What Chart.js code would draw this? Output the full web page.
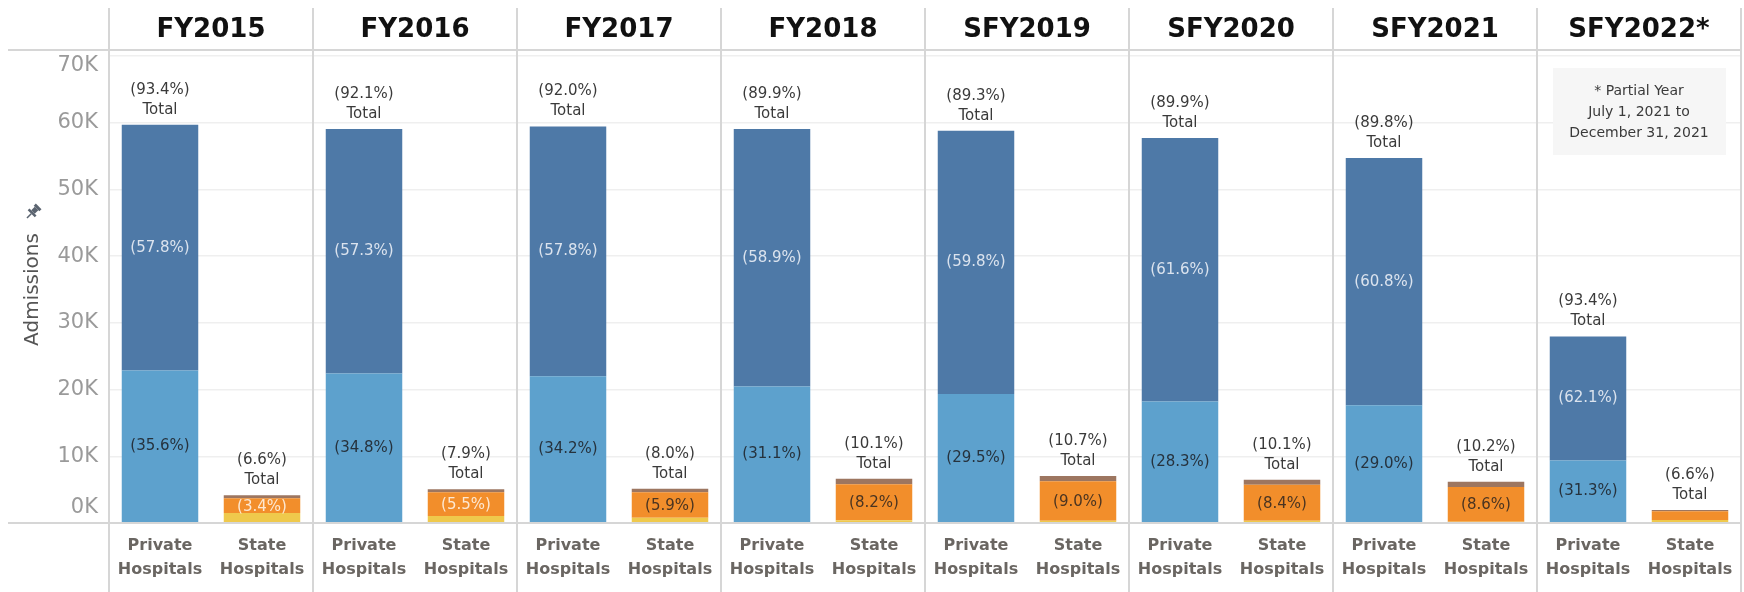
<!DOCTYPE html>
<html>
<head>
<meta charset="utf-8">
<script src="https://cdn.jsdelivr.net/npm/chart.js@4.4.1/dist/chart.umd.min.js"></script>
<style>
    html, body { margin: 0; padding: 0; background: #ffffff; }
    #wrap { width: 1744px; height: 592px; }
</style>
</head>
<body>
<div id="wrap"><canvas id="chart" width="1744" height="592"></canvas></div>
<script>
// 연도(패널)
const aYears = ["FY2015", "FY2016", "FY2017", "FY2018", "SFY2019", "SFY2020", "SFY2021", "SFY2022*"];
const aHospitalTypes = [["Private", "Hospitals"], ["State", "Hospitals"]];
const aYTicks = [0, 10000, 20000, 30000, 40000, 50000, 60000, 70000];

// admissions by segment
const aPrivateLight = [22850, 22400, 22000, 20450, 19350, 18200, 17650, 9350];
const aPrivateDark = [36850, 36650, 37450, 38600, 39450, 39500, 37050, 18600];
const aStateYellow = [1500, 1050, 800, 400, 350, 350, 200, 450];
const aStateOrange = [2200, 3550, 3800, 5400, 5900, 5400, 5200, 1300];
const aStateBrown = [450, 450, 550, 850, 800, 750, 800, 200];

// 라벨
const aPrivateTotalPct = ["(93.4%)", "(92.1%)", "(92.0%)", "(89.9%)", "(89.3%)", "(89.9%)", "(89.8%)", "(93.4%)"];
const aPrivateLightPct = ["(35.6%)", "(34.8%)", "(34.2%)", "(31.1%)", "(29.5%)", "(28.3%)", "(29.0%)", "(31.3%)"];
const aPrivateDarkPct = ["(57.8%)", "(57.3%)", "(57.8%)", "(58.9%)", "(59.8%)", "(61.6%)", "(60.8%)", "(62.1%)"];
const aStateTotalPct = ["(6.6%)", "(7.9%)", "(8.0%)", "(10.1%)", "(10.7%)", "(10.1%)", "(10.2%)", "(6.6%)"];
const aStateOrangePct = ["(3.4%)", "(5.5%)", "(5.9%)", "(8.2%)", "(9.0%)", "(8.4%)", "(8.6%)", null];
const aNote = ["* Partial Year", "July 1, 2021 to", "December 31, 2021"];

const sFont = "'DejaVu Sans', sans-serif";

// private / state 를 번갈아 하나의 축으로
function interleave(aPrivate, aState) {
    let aData = [];
    aYears.forEach(function (sYear, i) {
        aData.push(aPrivate ? aPrivate[i] : null);
        aData.push(aState ? aState[i] : null);
    });
    return aData;
}

let aLabels = [];
aYears.forEach(function () {
    aLabels.push(aHospitalTypes[0]);
    aLabels.push(aHospitalTypes[1]);
});

const oDecorPlugin = {
    id: "decor",
    beforeDatasetsDraw: function (chart) {
        const ctx = chart.ctx;
        const oX = chart.scales.x;
        const iLast = oX.getPixelForValue(15);
        // note box
        ctx.save();
        ctx.fillStyle = "#f6f6f6";
        ctx.fillRect(iLast - 137, 68, 173, 87);
        ctx.restore();
    },
    afterDraw: function (chart) {
        const ctx = chart.ctx;
        const oArea = chart.chartArea;
        const oX = chart.scales.x;
        const oY = chart.scales.y;
        const iHalf = (oX.getPixelForValue(1) - oX.getPixelForValue(0)) / 2;

        ctx.save();
        ctx.strokeStyle = "#d6d6d6";
        ctx.lineWidth = 2;

        // 헤더 / 축 선
        ctx.beginPath();
        ctx.moveTo(8, 50); ctx.lineTo(oArea.right, 50);
        ctx.moveTo(8, oArea.bottom); ctx.lineTo(oArea.right, oArea.bottom);
        ctx.stroke();

        // 패널 구분선
        ctx.beginPath();
        for (let i = 0; i <= aYears.length; i++) {
            let x = Math.round(oX.getPixelForValue(Math.min(2 * i, 15)) + (i === aYears.length ? iHalf : -iHalf));
            ctx.moveTo(x, 8); ctx.lineTo(x, 592);
        }
        ctx.stroke();

        // 패널 제목
        ctx.fillStyle = "#111111";
        ctx.font = "bold 26px " + sFont;
        ctx.textAlign = "center";
        ctx.textBaseline = "middle";
        aYears.forEach(function (sYear, i) {
            let x = (oX.getPixelForValue(2 * i) + oX.getPixelForValue(2 * i + 1)) / 2;
            ctx.fillText(sYear, x, 30);
        });

        // y 축 라벨
        ctx.fillStyle = "#9a9a9a";
        ctx.font = "21px " + sFont;
        ctx.textAlign = "right";
        oY.ticks.forEach(function (oTick) {
            let y = oY.getPixelForValue(oTick.value);
            y = Math.min(Math.max(y, oArea.top + 10), oArea.bottom - 15);
            ctx.fillText(oTick.value / 1000 + "K", 98, y);
        });

        // pin
        ctx.save();
        ctx.translate(33, 212);
        ctx.rotate(Math.PI / 4);
        ctx.fillStyle = "#5b6470";
        ctx.fillRect(-4, -8, 8, 3);
        ctx.fillRect(-2.5, -5, 5, 5);
        ctx.fillRect(-5, 0, 10, 2.5);
        ctx.fillRect(-0.75, 2.5, 1.5, 6);
        ctx.restore();

        // 데이터 라벨
        ctx.font = "15px " + sFont;
        ctx.textAlign = "center";
        const fnBar = function (iDataset, iIndex) {
            return chart.getDatasetMeta(iDataset).data[iIndex];
        };
        const fnMid = function (oBar) {
            return (oBar.y + oBar.base) / 2;
        };
        aYears.forEach(function (sYear, i) {
            let iP = 2 * i, iS = 2 * i + 1;
            let oLight = fnBar(0, iP), oDark = fnBar(1, iP);
            let oOrange = fnBar(3, iS), oBrown = fnBar(4, iS);

            ctx.fillStyle = "#3a3a3a";
            ctx.fillText(aPrivateTotalPct[i], oDark.x, oDark.y - 35);
            ctx.fillText("Total", oDark.x, oDark.y - 15);
            ctx.fillText(aStateTotalPct[i], oBrown.x, oBrown.y - 35);
            ctx.fillText("Total", oBrown.x, oBrown.y - 15);

            ctx.fillStyle = "#dbe3ee";
            ctx.fillText(aPrivateDarkPct[i], oDark.x, fnMid(oDark));
            ctx.fillStyle = "#26323d";
            ctx.fillText(aPrivateLightPct[i], oLight.x, fnMid(oLight));
            if (aStateOrangePct[i]) {
                ctx.fillStyle = i < 2 ? "#fde8d2" : "#4a3421";
                ctx.fillText(aStateOrangePct[i], oOrange.x, fnMid(oOrange) + 1);
            }
        });

        // note
        let xNote = oX.getPixelForValue(15) - 51;
        ctx.fillStyle = "#3a3a3a";
        ctx.font = "14px " + sFont;
        aNote.forEach(function (sLine, i) {
            ctx.fillText(sLine, xNote, 91 + i * 21);
        });

        ctx.restore();
    }
};

const ctx = document.getElementById("chart").getContext("2d");
new Chart(ctx, {
    type: "bar",
    data: {
        labels: aLabels,
        datasets: [
            { label: "Private light", data: interleave(aPrivateLight, null), backgroundColor: "#5da1cd" },
            { label: "Private dark", data: interleave(aPrivateDark, null), backgroundColor: "#4e79a7" },
            { label: "State yellow", data: interleave(null, aStateYellow), backgroundColor: "#efc94c" },
            { label: "State orange", data: interleave(null, aStateOrange), backgroundColor: "#f28e2b" },
            { label: "State brown", data: interleave(null, aStateBrown), backgroundColor: "#9d7660" }
        ]
    },
    options: {
        responsive: false,
        animation: false,
        barPercentage: 0.75,
        categoryPercentage: 1,
        layout: {
            padding: { left: 0, top: 56, right: 3, bottom: 0 }
        },
        plugins: {
            legend: { display: false },
            tooltip: { enabled: false }
        },
        scales: {
            x: {
                stacked: true,
                grid: { display: false, drawTicks: false },
                border: { display: false },
                ticks: {
                    color: "#6a6662",
                    padding: 10,
                    maxRotation: 0,
                    autoSkip: false,
                    font: { family: sFont, size: 16, weight: "bold", lineHeight: 1.55 }
                },
                afterFit: function (scale) {
                    scale.height = 69;
                }
            },
            y: {
                stacked: true,
                min: 0,
                max: 70000,
                afterBuildTicks: function (scale) {
                    scale.ticks = aYTicks.map(function (v) { return { value: v }; });
                },
                grid: { color: "#efefef", drawTicks: false, lineWidth: 1.5 },
                border: { display: false },
                ticks: { display: false },
                title: {
                    display: true,
                    text: "Admissions",
                    color: "#555555",
                    font: { family: sFont, size: 20 },
                    padding: { top: 21, bottom: 0 }
                },
                afterFit: function (scale) {
                    scale.width = 109;
                }
            }
        }
    },
    plugins: [oDecorPlugin]
});
</script>
</body>
</html>
